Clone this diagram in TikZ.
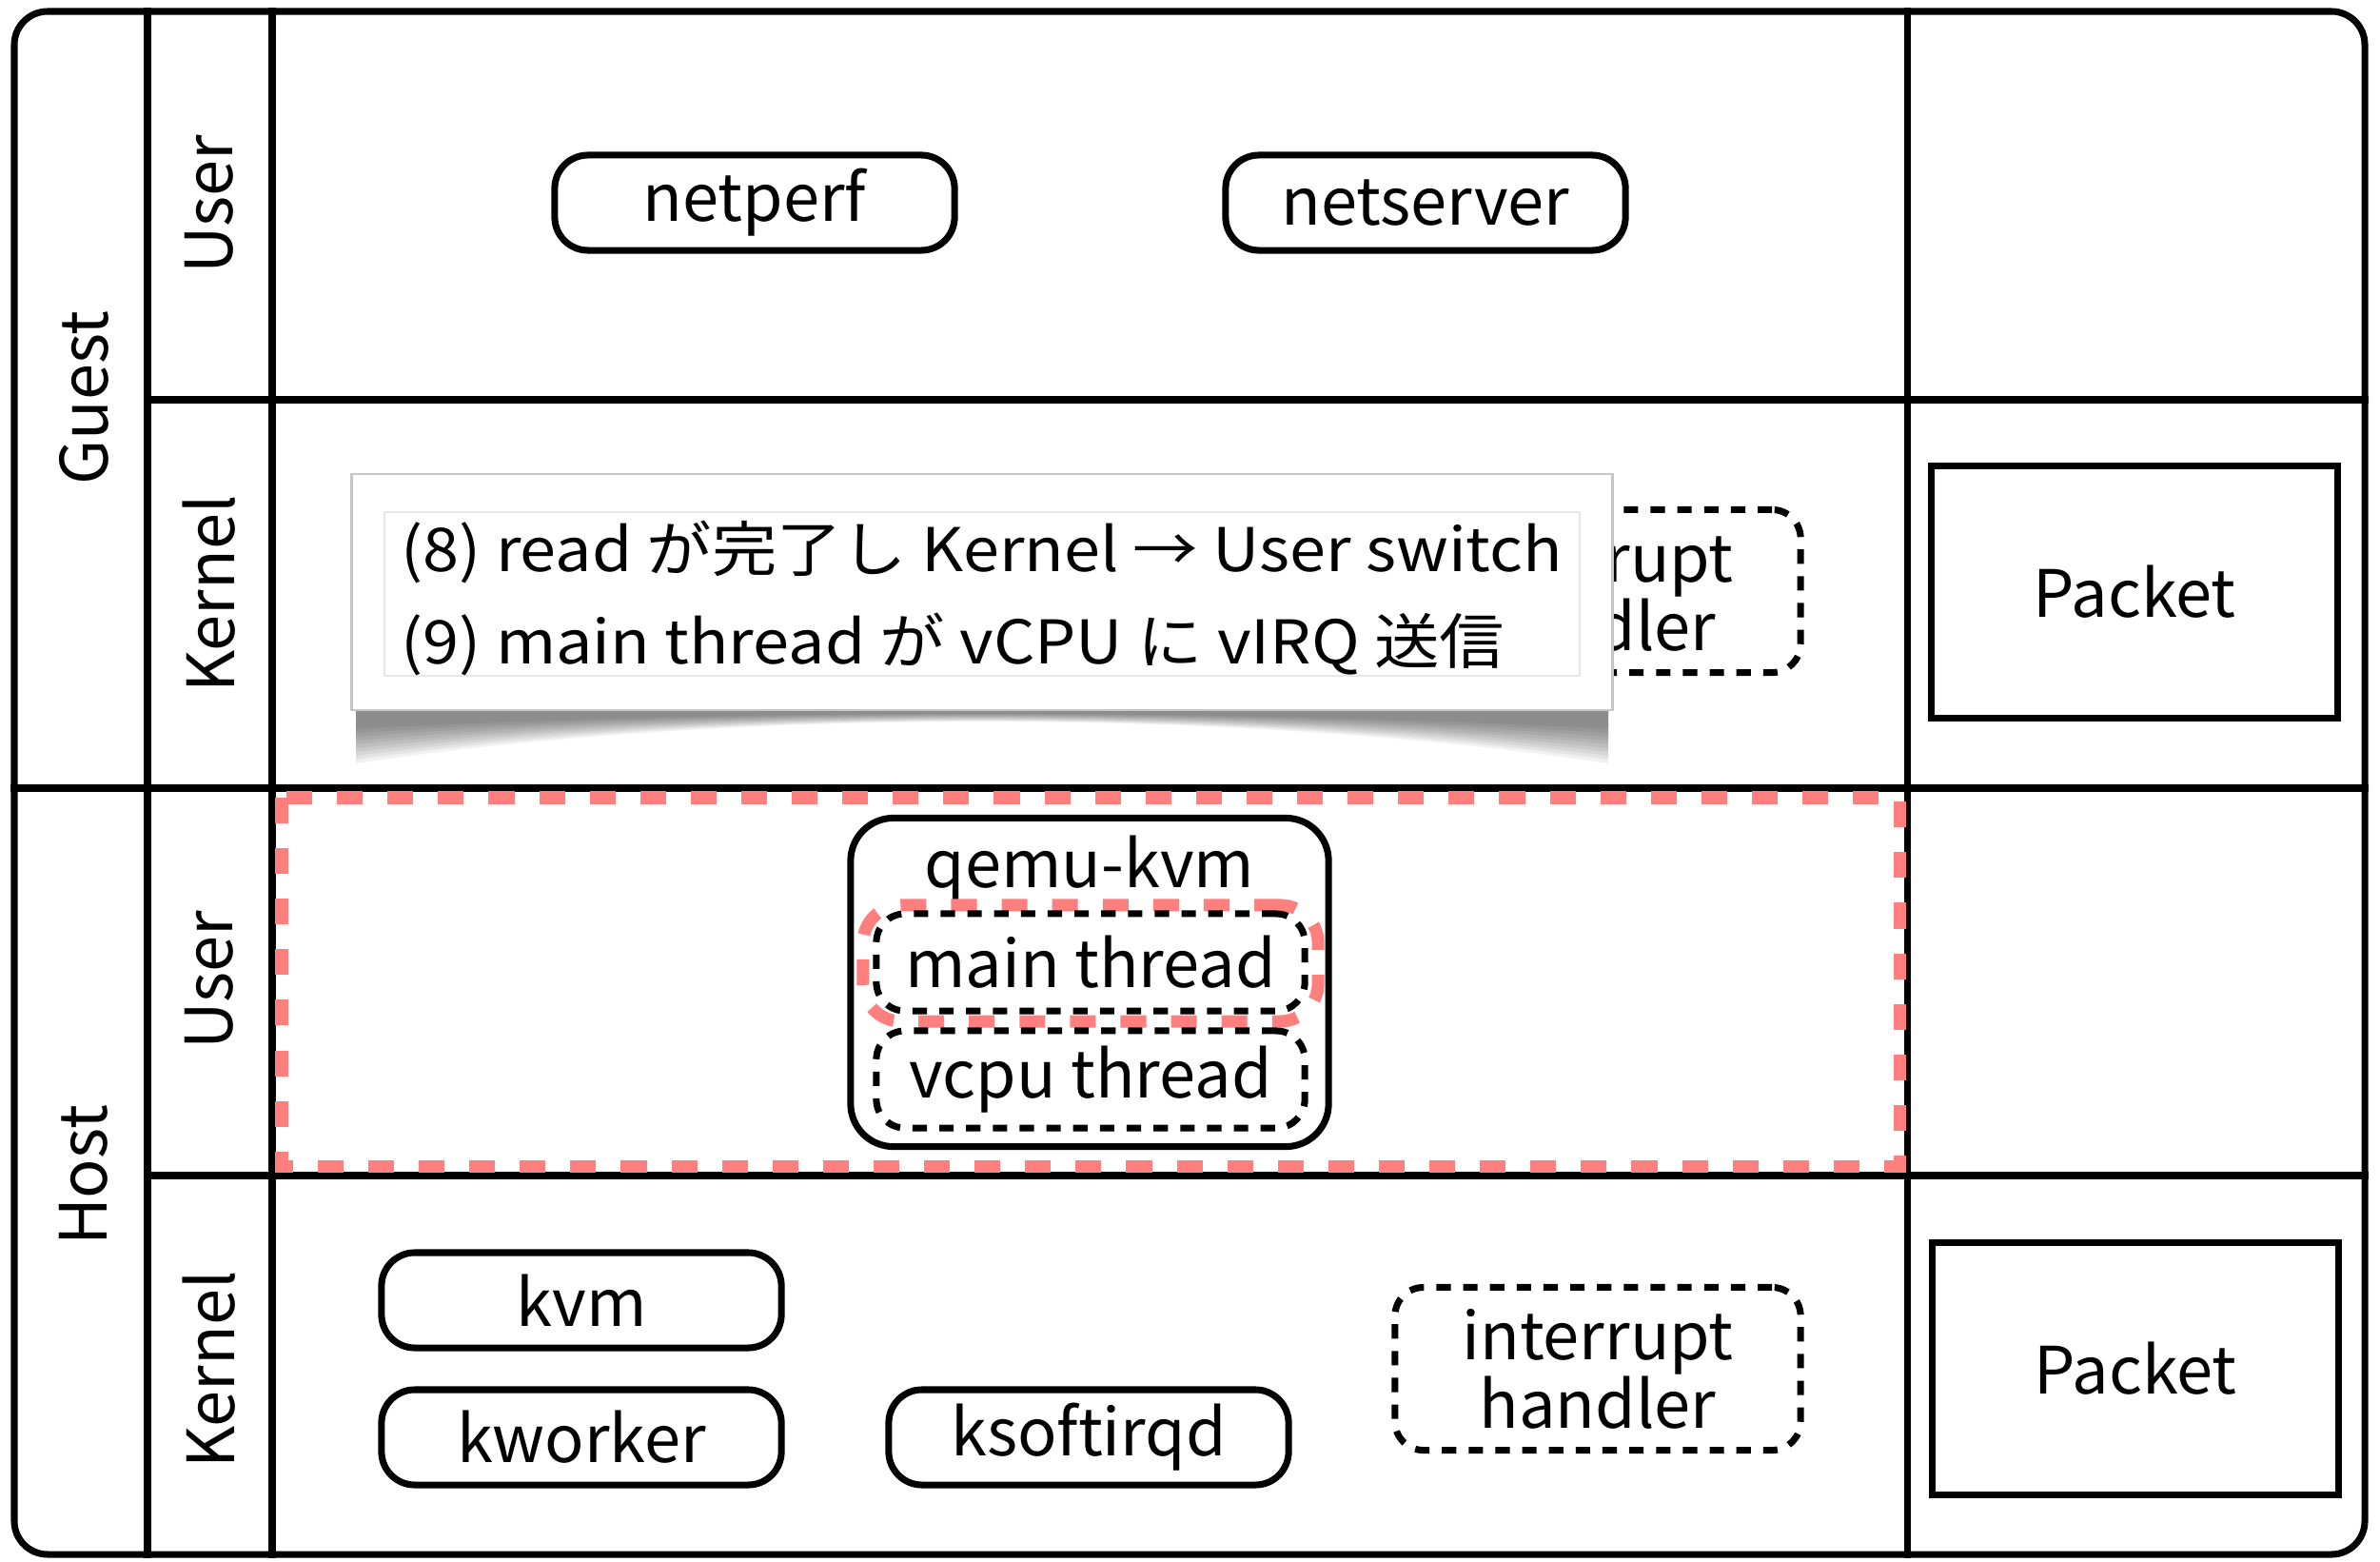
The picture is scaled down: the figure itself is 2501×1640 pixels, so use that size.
\documentclass[tikz,border=0pt]{standalone}
\usepackage{fontspec}
\setmainfont{Noto Sans CJK JP}
\newfontfamily\callfont{Noto Sans CJK JP}[FakeStretch=1.08]
\definecolor{hotred}{RGB}{255,127,127}
\tikzset{
  gridline/.style={line width=2pt, line cap=rect},
  bigfont/.style={font=\fontsize{19.5}{20.5}\selectfont},
  procbox/.style={draw, line width=2pt, rounded corners=0.35cm, minimum width=4.2cm, minimum height=1cm, inner sep=0pt, bigfont},
  dprocbox/.style={procbox, rounded corners=0.3cm, dash pattern=on 4.3pt off 3.7pt},
  packetbox/.style={draw, line width=2.1pt, minimum width=4.27cm, minimum height=2.65cm, inner sep=0pt, bigfont},
  sidelabel/.style={rotate=90, inner sep=0pt, bigfont},
  hotbox/.style={draw=hotred, line width=3.7pt, dash pattern=on 7.7pt off 7.4pt},
  calltext/.style={anchor=west, inner sep=0pt, font=\callfont\fontsize{18}{20}\selectfont}
}
\begin{document}
\begin{tikzpicture}[x=0.01cm,y=-0.01cm]
\useasboundingbox (0,0) rectangle (2501,1640);
\fill[white] (0,0) rectangle (2501,1640);
% grid
\draw[line width=2pt, rounded corners=0.35cm] (15,12) rectangle (2485,1633);
\draw[gridline] (155,12) -- (155,1633);
\draw[gridline] (286,12) -- (286,1633);
\draw[gridline] (2004,12) -- (2004,1633);
\draw[gridline] (155,420) -- (2485,420);
\draw[gridline] (15,828) -- (2485,828);
\draw[gridline] (155,1235) -- (2485,1235);
% side labels
\node[sidelabel] (guest) at (88,418) {Guest};
\node[sidelabel] (host) at (88,1235) {Host};
\node[sidelabel] (guser) at (220,215) {User};
\node[sidelabel] (gkern) at (220,624) {Kernel};
\node[sidelabel] (huser) at (220,1030) {User};
\node[sidelabel] (hkern) at (220,1439) {Kernel};
% guest user
\node[procbox] (netperf) at (793,213) {netperf};
\node[procbox] (netserver) at (1498,213) {netserver};
% guest kernel
\node[dprocbox, minimum width=4.26cm, minimum height=1.71cm, align=center] (gih) at (1679,621) {interrupt\\handler};
\node[packetbox] (gpacket) at (2243,622) {Packet};
% host user
\draw[hotbox] (296,838) rectangle (1996,1225);
\node[procbox, minimum width=5.02cm, minimum height=3.45cm, rounded corners=0.45cm] (qemu) at (1145,1032) {};
\node[bigfont, inner sep=0pt] (qemulabel) at (1145,913) {qemu-kvm};
\node[hotbox, rounded corners=0.4cm, minimum width=4.78cm, minimum height=1.22cm] (mainhot) at (1146,1012) {};
\node[dprocbox, minimum width=4.5cm, minimum height=1.02cm] (main) at (1146,1011) {main thread};
\node[dprocbox, minimum width=4.5cm, minimum height=1.02cm] (vcpu) at (1146,1134) {vcpu thread};
% host kernel
\node[procbox] (kvm) at (611,1366) {kvm};
\node[procbox] (kworker) at (611,1510) {kworker};
\node[procbox] (ksoftirqd) at (1144,1510) {ksoftirqd};
\node[dprocbox, minimum width=4.26cm, minimum height=1.71cm, align=center] (hih) at (1679,1438) {interrupt\\handler};
\node[packetbox] (hpacket) at (2244,1438) {Packet};
% callout shadow
\foreach \d in {0,...,9}{
  \pgfmathsetmacro{\ee}{802-4*\d}
  \pgfmathsetmacro{\cc}{758-0.9*\d}
  \pgfmathsetmacro{\mm}{(\cc-0.25*\ee)/0.75}
  \fill[black, opacity=0.055] (374,745) -- (1690,745) -- (1690,\ee) .. controls (1300,\mm) and (764,\mm) .. (374,\ee) -- cycle;
}
% callout
\node[draw=gray!45, line width=0.8pt, fill=white, minimum width=13.24cm, minimum height=2.48cm, inner sep=0pt] (callout) at (1032,622) {};
\draw[gray!18, line width=0.7pt] (404,538) rectangle (1660,710);
\node[calltext] (step8) at (421,580) {(8) read が完了し Kernel → User switch};
\node[calltext] (step9) at (421,677) {(9) main thread が vCPU に vIRQ 送信};
\end{tikzpicture}
\end{document}
